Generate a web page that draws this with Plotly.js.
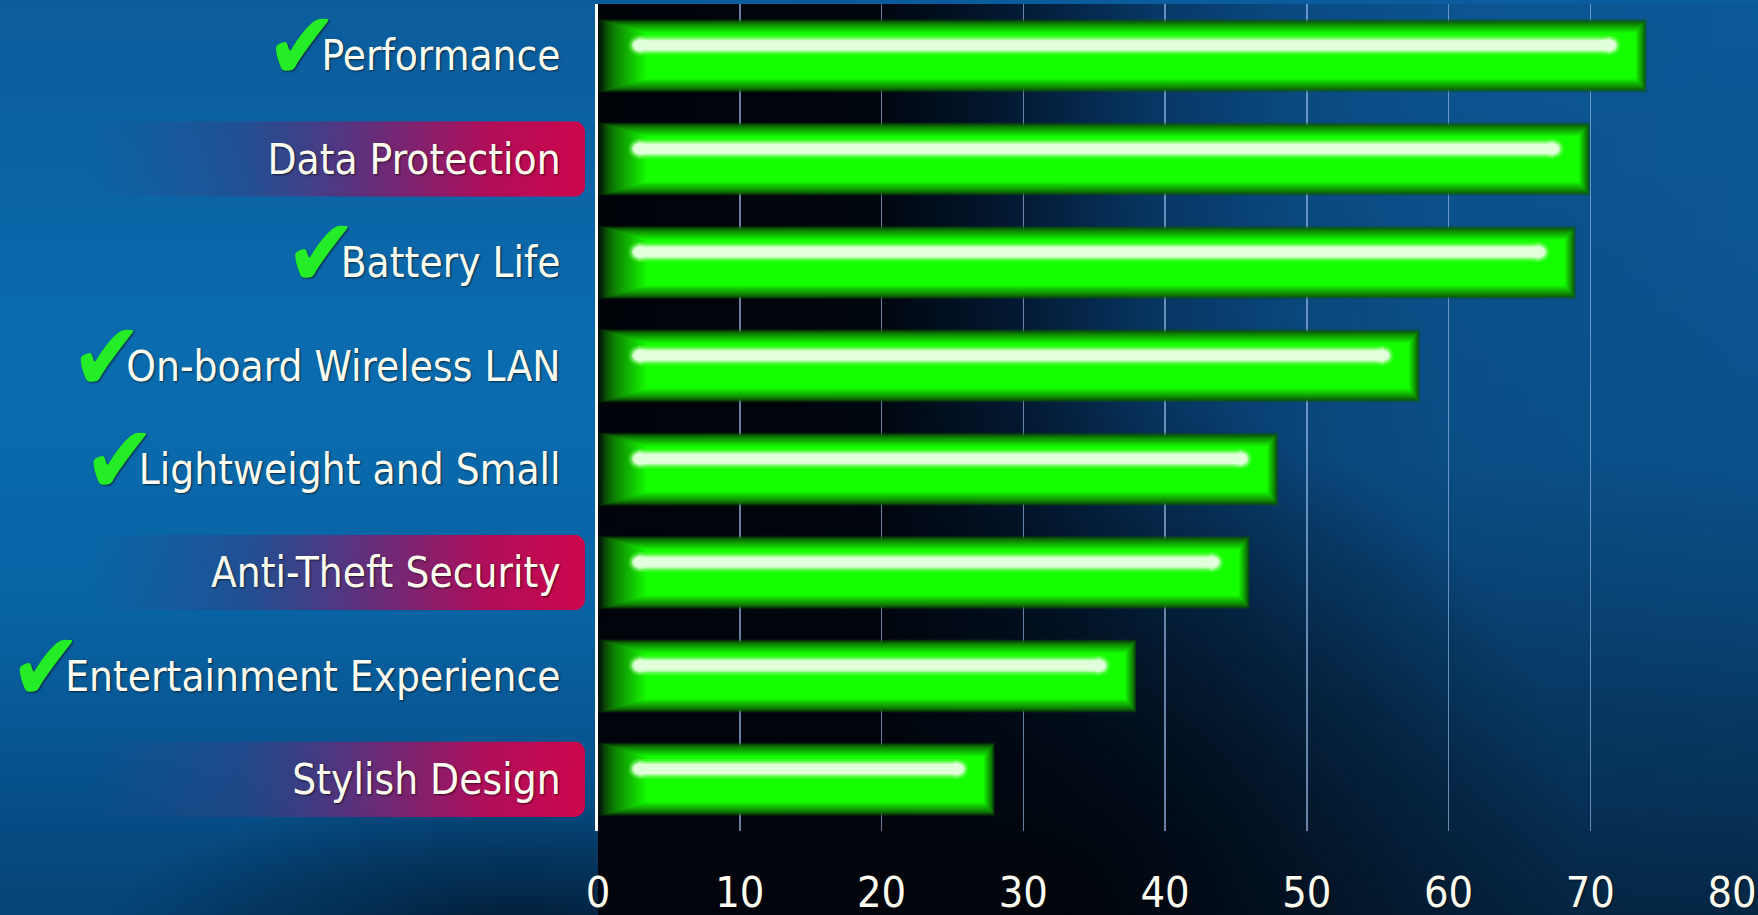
<!DOCTYPE html>
<html>
<head>
<meta charset="utf-8">
<script src="https://cdn.plot.ly/plotly-3.0.1.min.js"></script>
<style>
  html, body { margin: 0; padding: 0; width: 1758px; height: 915px; overflow: hidden; }
  body {
    background:
      radial-gradient(ellipse 520px 520px at 470px 900px, rgba(0,3,8,0.92), rgba(0,3,8,0) 100%) 598px 4px / 1160px 911px no-repeat,
      linear-gradient(to bottom, rgba(0,6,16,0) 0%, rgba(0,6,16,0.08) 50%, rgba(0,6,16,0.5) 90%, rgba(0,6,16,0.6) 100%) 598px 4px / 1160px 911px no-repeat,
      linear-gradient(to right, #000308 0%, #00060e 24%, #031a34 36%, #073866 48%, #0a4a82 60%, #0b5490 74%, #0b5896 100%) 598px 4px / 1160px 911px no-repeat,
      radial-gradient(ellipse 420px 140px at 520px 930px, rgba(1,20,40,0.8), rgba(1,20,40,0) 100%),
      linear-gradient(to bottom, #0b5c9c 0%, #0a6caf 40%, #0864a5 66%, #06508a 86%, #054476 100%);
  }
  #chart { width: 1758px; height: 915px; }
</style>
</head>
<body>
<div id="chart"></div>
<script>
// ---- data ----
var categories = ['Performance', 'Data Protection', 'Battery Life', 'On-board Wireless LAN',
                  'Lightweight and Small', 'Anti-Theft Security', 'Entertainment Experience', 'Stylish Design'];
var values = [74, 70, 69, 58, 48, 46, 38, 28];
var checked = [true, false, true, true, true, false, true, false];
var highlighted = [false, true, false, false, false, true, false, true];
var xTicks = [0, 10, 20, 30, 40, 50, 60, 70, 80];

// ---- style helpers ----
var FONT = '"DejaVu Sans Condensed", "DejaVu Sans", sans-serif';
var catOrder = categories.slice().reverse();          // first category at top
function idx(c) { return catOrder.indexOf(c); }

function hex(c) { return [parseInt(c.substr(1,2),16), parseInt(c.substr(3,2),16), parseInt(c.substr(5,2),16)]; }
function mix(a, b, t, alpha) {
  var A = hex(a), B = hex(b);
  return 'rgba(' + A.map(function(v, i){ return Math.round(v + (B[i]-v)*t); }).join(',') + ',' + alpha + ')';
}

var traces = [];
var N = 20;
for (var k = 0; k < N; k++) {
  var t = k / (N - 1);
  var left = t * 3.4, right = t * 0.8;
  traces.push({
    type: 'bar', orientation: 'h',
    y: categories,
    x: values.map(function(v){ return v - left - right; }),
    base: categories.map(function(){ return left; }),
    width: 0.71 - t * 0.27,
    marker: { color: mix('#0c5204', '#14ff00', Math.pow(t, 1.1), Math.min(1, 0.22 + t * 1.8)), line: { width: 0 } },
    hoverinfo: 'skip', showlegend: false
  });
}

// highlight streaks (on overlay linear axis)
function streak(w, col) {
  var xs = [], ys = [];
  categories.forEach(function(c, i) {
    xs.push(2.85, values[i] - 2.55, null);
    ys.push(idx(c) + 0.1, idx(c) + 0.1, null);
  });
  return {
    type: 'scatter', mode: 'lines+markers', x: xs, y: ys, yaxis: 'y2',
    line: { color: col, width: w }, marker: { color: col, size: w, line: { width: 0 } },
    hoverinfo: 'skip', showlegend: false, connectgaps: false
  };
}
traces.push(streak(20, 'rgba(150,255,130,0.25)'));
traces.push(streak(16, 'rgba(190,255,180,0.35)'));
traces.push(streak(13, 'rgba(215,255,205,0.6)'));
traces.push(streak(10, '#e2ffdc'));

// tick labels
var tickText = categories.map(function(c, i) {
  return (checked[i] ? '<span style="color:#24ec26;font-size:96px;letter-spacing:-17px;baseline-shift:-9px">\u2714</span>' : '') + c;
});

// label tags as svg images
function svgURI(s) { return 'data:image/svg+xml;charset=utf-8,' + encodeURIComponent(s); }
var tagBg = svgURI(
  "<svg xmlns='http://www.w3.org/2000/svg' width='495' height='75' viewBox='0 0 495 75' preserveAspectRatio='none'>" +
  "<defs><linearGradient id='g' x1='0' y1='0' x2='1' y2='0'>" +
  "<stop offset='0' stop-color='#2a4a8c' stop-opacity='0'/>" +
  "<stop offset='0.3' stop-color='#2e4488' stop-opacity='0.6'/>" +
  "<stop offset='0.55' stop-color='#6a2a78' stop-opacity='0.9'/>" +
  "<stop offset='0.8' stop-color='#b00e5a'/>" +
  "<stop offset='1' stop-color='#cc064c'/></linearGradient></defs>" +
  "<rect x='0' y='0' width='495' height='75' rx='11' ry='11' fill='url(#g)'/></svg>");

var L = 598, W = 1134;
var images = [];
categories.forEach(function(c, i) {
  if (!highlighted[i]) return;
  images.push({
    source: tagBg, xref: 'paper', yref: 'y2',
    x: (90 - L) / W, sizex: (585 - 90) / W,
    y: idx(c) + 0.365, sizey: 0.73,
    xanchor: 'left', yanchor: 'top', sizing: 'stretch', layer: 'below'
  });
});

var tickFont = { family: FONT, size: 42, color: '#fffdf2', shadow: '1px 1px 2px rgba(0,0,0,0.6)' };
var layout = {
  width: 1758, height: 915,
  margin: { l: L, r: 26, t: 4, b: 84, pad: 0 },
  paper_bgcolor: 'rgba(0,0,0,0)', plot_bgcolor: 'rgba(0,0,0,0)',
  barmode: 'overlay', showlegend: false,
  images: images,
  xaxis: {
    range: [0, 80], tickvals: xTicks, ticktext: xTicks.map(String),
    showgrid: true, gridcolor: 'rgba(145,180,225,0.7)', gridwidth: 1.5,
    zeroline: false, showline: false, ticks: '',
    ticklabelstandoff: 32,
    tickfont: { family: FONT, size: 43, color: '#fffdf2', shadow: '1px 1px 2px rgba(0,0,0,0.6)' },
    fixedrange: true
  },
  yaxis: {
    type: 'category', categoryorder: 'array', categoryarray: catOrder,
    range: [-0.5, catOrder.length - 0.5],
    tickvals: categories, ticktext: tickText,
    showgrid: false, zeroline: false,
    showline: true, linecolor: '#ffffff', linewidth: 3,
    ticks: '', ticklabelstandoff: 26,
    tickfont: tickFont,
    fixedrange: true
  },
  yaxis2: {
    overlaying: 'y', range: [-0.5, catOrder.length - 0.5],
    visible: false, showgrid: false, zeroline: false, fixedrange: true
  }
};

Plotly.newPlot('chart', traces, layout, { staticPlot: true, displayModeBar: false });
</script>
</body>
</html>
